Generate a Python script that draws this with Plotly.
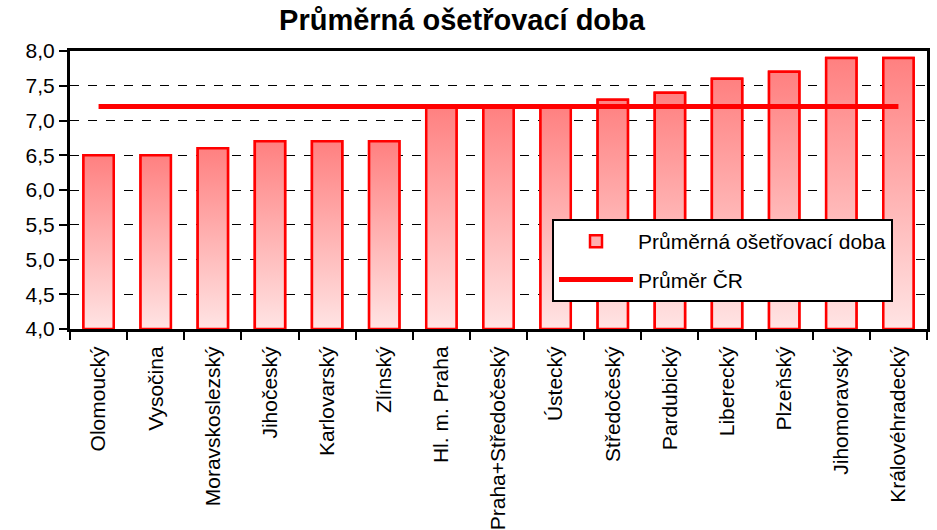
import plotly.graph_objects as go

kraje = [
    "Olomoucký", "Vysočina", "Moravskoslezský", "Jihočeský", "Karlovarský",
    "Zlínský", "Hl. m. Praha", "Praha+Středočeský", "Ústecký", "Středočeský",
    "Pardubický", "Liberecký", "Plzeňský", "Jihomoravský", "Královéhradecký"
]
doba = [6.5, 6.5, 6.6, 6.7, 6.7, 6.7, 7.2, 7.2, 7.2, 7.3, 7.4, 7.6, 7.7, 7.9, 7.9]
prumer_cr = 7.2

y_base = 4.0
bar_w = 0.53
idx = list(range(len(kraje)))

fig = go.Figure()

# plain bars (give the legend swatch), gradient overlay drawn on top
fig.add_trace(
    go.Bar(
        x=idx,
        y=doba,
        width=bar_w,
        marker=dict(color="#ffb0b0", line=dict(color="#ff0000", width=2.5)),
        name="Průměrná ošetřovací doba",
        legendgroup="doba"
    )
)

for i, v in enumerate(doba):
    h = bar_w / 2
    fig.add_trace(
        go.Scatter(
            x=[i - h, i - h, i + h, i + h, i - h],
            y=[y_base, v, v, y_base, y_base],
            mode="lines",
            fill="toself",
            fillgradient=dict(
                type="vertical",
                colorscale=[[0, "#ffe4e4"], [1, "#ff8080"]]
            ),
            line=dict(color="#ff0000", width=2.5),
            showlegend=False,
            hoverinfo="skip"
        )
    )

fig.add_trace(
    go.Scatter(
        x=idx,
        y=[prumer_cr] * len(kraje),
        mode="lines",
        line=dict(color="#ff0000", width=5),
        name="Průměr ČR",
        legendgroup="cr"
    )
)

fig.update_layout(
    width=937,
    height=530,
    margin=dict(l=70, r=10, t=51, b=201, autoexpand=False),
    paper_bgcolor="white",
    plot_bgcolor="white",
    separators=", ",
    font=dict(family="Liberation Sans, Arial, sans-serif", color="black", size=21),
    title=dict(
        text="<b>Průměrná ošetřovací doba</b>",
        x=(275 + 649) / 2 / 937,
        xanchor="center",
        y=1 - 20 / 530,
        yanchor="middle",
        font=dict(size=29)
    ),
    legend=dict(
        x=(552 - 70) / 857,
        y=(329 - 219) / 278,
        xanchor="left",
        yanchor="top",
        bgcolor="white",
        bordercolor="black",
        borderwidth=2,
        font=dict(size=21),
        itemwidth=74,
        tracegroupgap=8
    ),
    showlegend=True
)

fig.update_xaxes(
    range=[-0.5, len(kraje) - 0.5],
    tickvals=idx,
    ticktext=kraje,
    tickangle=-90,
    ticks="",
    ticklabelstandoff=6,
    tickfont=dict(size=21),
    automargin=False,
    showgrid=False,
    zeroline=False,
    showline=True,
    linecolor="black",
    linewidth=3,
    mirror=True,
    minor=dict(
        tickvals=[i - 0.5 for i in range(len(kraje) + 1)],
        ticks="outside",
        ticklen=8,
        tickwidth=2,
        tickcolor="black"
    )
)

fig.update_yaxes(
    range=[4.0, 8.0],
    dtick=0.5,
    tickformat=".1f",
    ticks="outside",
    ticklen=8,
    tickwidth=2,
    tickcolor="black",
    automargin=False,
    showgrid=True,
    gridcolor="black",
    gridwidth=1,
    griddash="dash",
    zeroline=False,
    showline=True,
    linecolor="black",
    linewidth=3,
    mirror=True
)

# drop the default page margin so the figure sits at the window corner
fig.write_html(
    "out.html",
    config={"displayModeBar": False},
    post_script="document.body.style.margin='0';"
)
